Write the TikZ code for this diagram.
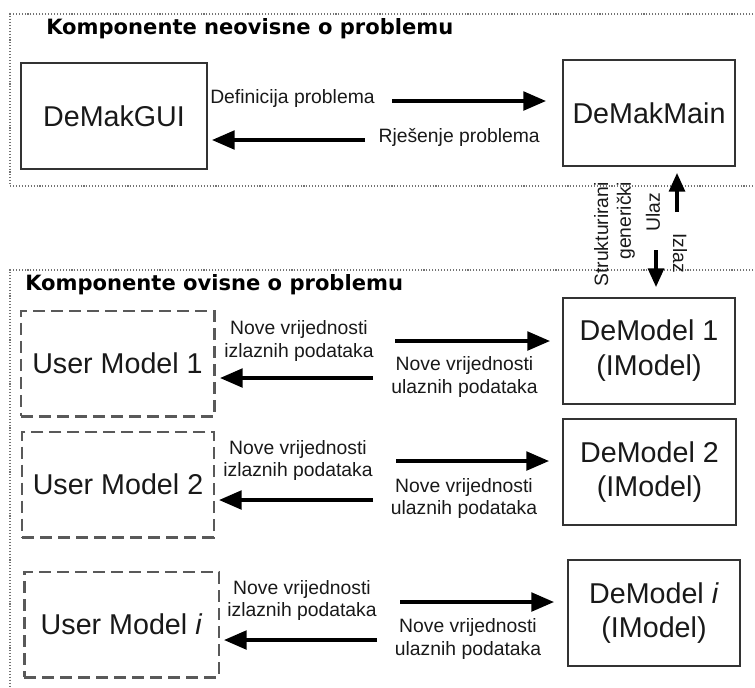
\documentclass[tikz,border=0pt]{standalone}
\usepackage{fontspec}
\setmainfont{Liberation Sans}
\newfontfamily\titlefont{DejaVu Sans}
\usetikzlibrary{arrows.meta,calc}

\tikzset{
  frame/.style={draw=black!55, line width=0.8pt, dash pattern=on 0.8pt off 1.4pt},
  solidbox/.style={draw=black!80, line width=1.5pt, minimum height=79.5pt, inner sep=0pt,
    align=center, font=\fontsize{21.5}{26}\selectfont, text=black!90},
  userbox/.style={draw=black!65, line width=2pt, dash pattern=on 9pt off 4.5pt,
    minimum height=79pt, inner sep=0pt, font=\fontsize{21.5}{26}\selectfont, text=black!90},
  lbl/.style={font=\fontsize{14.5}{17}\selectfont, text=black!90, inner sep=0pt, align=center},
  grouptitle/.style={font=\titlefont\bfseries\fontsize{15.8}{18}\selectfont, inner sep=0pt},
  arr/.style={line width=2.5pt, -{Triangle[length=17pt,width=14pt]}},
  varr/.style={line width=2.3pt, -{Triangle[length=14pt,width=12pt]}}
}

\begin{document}
\begin{tikzpicture}[x=0.75pt, y=-0.75pt]
\useasboundingbox (0,0) rectangle (755,687);

% the two groups
\draw[frame] (756,14) -- (10,14) -- (10,186) -- (756,186);
\draw[frame] (756,270) -- (10,270) -- (10,688);
\node[grouptitle, anchor=base west] (titleA) at (46,34) {Komponente neovisne o problemu};
\node[grouptitle, anchor=base west] (titleB) at (25,290) {Komponente ovisne o problemu};

% independent part
\node[solidbox, minimum width=139.5pt] (gui) at (114,116) {DeMakGUI};
\node[solidbox, minimum width=129pt] (main) at (649,113) {DeMakMain};

\coordinate (defA) at (392,101);
\coordinate (defB) at (546,101);
\coordinate (rjeA) at (365,140);
\coordinate (rjeB) at (212,140);
\draw[arr] (defA) -- (defB);
\draw[arr] (rjeA) -- (rjeB);
\node[lbl, anchor=base west] (def) at (210,103) {Definicija problema};
\node[lbl, anchor=base east] (rje) at (540,142) {Rješenje problema};

% link main -- models
\coordinate (ulazA) at (677,212);
\coordinate (ulazB) at (677,173);
\coordinate (izlazA) at (656,250);
\coordinate (izlazB) at (656,287);
\draw[varr] (ulazA) -- (ulazB);
\draw[varr] (izlazA) -- (izlazB);
\node[lbl, rotate=90, anchor=east, align=right] (generic) at (614.5,182) {Strukturirani\\generički};
\node[lbl, rotate=90] (ulaz) at (653,212) {Ulaz};
\node[lbl, rotate=-90] (izlaz) at (680,253) {Izlaz};

% dependent part, row 1
\node[userbox, minimum width=145pt] (user1) at (117.5,363.5) {User Model 1};
\node[solidbox, minimum width=129pt] (model1) at (649,350.5) {DeModel 1\\(IModel)};
\coordinate (outA1) at (395,341);
\coordinate (outB1) at (550,341);
\coordinate (inA1) at (373,378);
\coordinate (inB1) at (220,378);
\draw[arr] (outA1) -- (outB1);
\draw[arr] (inA1) -- (inB1);
\node[lbl] (out1) at (299,341) {Nove vrijednosti\\izlaznih podataka};
\node[lbl] (in1) at (464.5,377) {Nove vrijednosti\\ulaznih podataka};

% row 2
\node[userbox, minimum width=144pt] (user2) at (118,484.5) {User Model 2};
\node[solidbox, minimum width=130pt] (model2) at (649.5,472) {DeModel 2\\(IModel)};
\coordinate (outA2) at (396,461);
\coordinate (outB2) at (549,461);
\coordinate (inA2) at (373,500);
\coordinate (inB2) at (219,500);
\draw[arr] (outA2) -- (outB2);
\draw[arr] (inA2) -- (inB2);
\node[lbl] (out2) at (298,460.5) {Nove vrijednosti\\izlaznih podataka};
\node[lbl] (in2) at (464,498.5) {Nove vrijednosti\\ulaznih podataka};

% row i
\node[userbox, minimum width=146pt] (useri) at (121.5,624.5) {User Model \textit{i}};
\node[solidbox, minimum width=129pt] (modeli) at (654,613) {DeModel \textit{i}\\(IModel)};
\coordinate (outAi) at (400,602);
\coordinate (outBi) at (554,602);
\coordinate (inAi) at (377,640);
\coordinate (inBi) at (224,640);
\draw[arr] (outAi) -- (outBi);
\draw[arr] (inAi) -- (inBi);
\node[lbl] (outi) at (302,600.5) {Nove vrijednosti\\izlaznih podataka};
\node[lbl] (ini) at (468,639) {Nove vrijednosti\\ulaznih podataka};

\end{tikzpicture}
\end{document}
